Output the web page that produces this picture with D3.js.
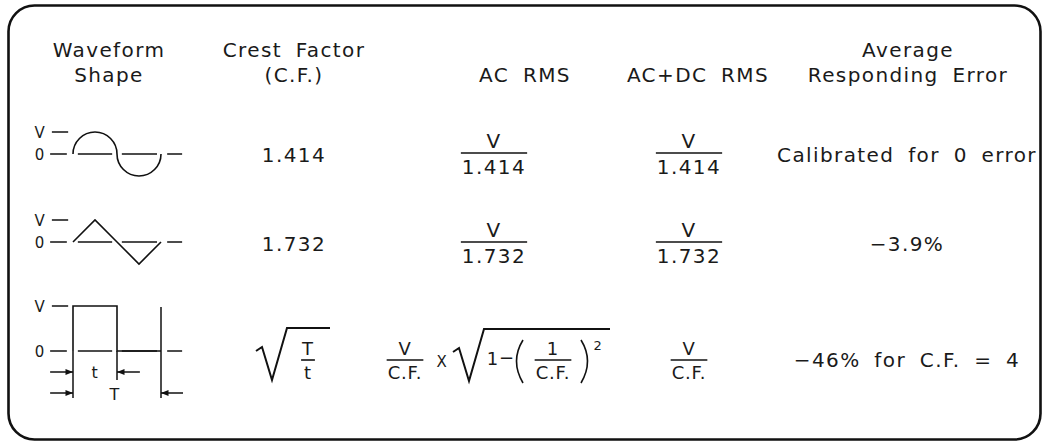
<!DOCTYPE html>
<html>
<head>
<meta charset="utf-8">
<script src="https://cdn.jsdelivr.net/npm/d3@7"></script>
<style>
  body { margin: 0; background: #fff; }
  svg text { font-family: "DejaVu Sans", sans-serif; fill: #1a1a1a; }
</style>
</head>
<body>
<div id="visualizations"></div>
<script>
// table content
const columns = ["shape", "crest", "acRms", "acDcRms", "avgError"];
const headerTop = ["Waveform", "Crest Factor", "", "", "Average"];
const headerBottom = ["Shape", "(C.F.)", "AC RMS", "AC+DC RMS", "Responding Error"];
const rows = ["sine", "triangle", "square"];
const crestFactor = ["1.414", "1.732", null];
const acRmsDenom = ["1.414", "1.732", null];
const acDcRmsDenom = ["1.414", "1.732", "C.F."];
const avgError = ["Calibrated for 0 error", "\u22123.9%", "\u221246% for C.F. = 4"];

// waveform glyphs, x in half periods, y in units of V
const trianglePts = [[0, 0], [0.5, 1], [1, 0], [1.5, -1], [2, 0]];
const squarePts = [[0, 0], [0, 1], [1, 1], [1, 0], [2, 0]];
const zeroDashes = [[-0.52, -0.14], [0.11, 0.89], [1.11, 1.91], [2.14, 2.48]];
const vDash = [-0.48, -0.11];

const W = 1044, H = 443;
const svg = d3.select("#visualizations").append("svg")
    .attr("width", W)
    .attr("height", H);

const colX = d3.scaleOrdinal().domain(columns).range([109, 294, 494, 689, 907]);
const headX = d3.scaleOrdinal().domain(columns).range([109, 294, 525, 698, 908]);
const rowY = d3.scaleOrdinal().domain(rows).range([153, 242, 360]);
const ampl = d3.scaleOrdinal().domain(rows).range([22, 22, 45]);
const zeroY = d3.scaleOrdinal().domain(rows).range([154, 242, 351]);
const wx = d3.scaleLinear().domain([0, 2]).range([73, 161]);

// frame
svg.append("rect")
    .attr("x", 8.5).attr("y", 5.5)
    .attr("width", 1032).attr("height", 434)
    .attr("rx", 26).attr("ry", 26)
    .attr("fill", "none")
    .attr("stroke", "#111")
    .attr("stroke-width", 2.6);

function txt(g, x, y, s, size) {
    return g.append("text")
        .attr("x", x).attr("y", y)
        .attr("text-anchor", "middle")
        .style("font-size", size + "px")
        .style("letter-spacing", (size >= 19 ? 1.4 : 0.8) + "px")
        .style("word-spacing", (size >= 19 ? 6 : 2) + "px")
        .text(s);
}

// headers
columns.forEach((c, i) => {
    if (headerTop[i]) txt(svg, headX(c), 57, headerTop[i], 20);
    txt(svg, headX(c), 82, headerBottom[i], 20);
});

function fraction(g, cx, cy, num, den, size) {
    const n = txt(g, cx, cy - 5, num, size);
    const d = txt(g, cx, cy + size + 1, den, size);
    const w = Math.max(n.node().getComputedTextLength(), d.node().getComputedTextLength()) + 2;
    g.append("line")
        .attr("x1", cx - w / 2).attr("x2", cx + w / 2)
        .attr("y1", cy).attr("y2", cy)
        .attr("stroke", "#111").attr("stroke-width", 1.6);
    return w;
}

function radical(g, x0, yTop, yBot, xEnd) {
    g.append("path")
        .attr("d", `M${x0},${yBot - 29} L${x0 + 6},${yBot - 33} L${x0 + 16},${yBot} L${x0 + 31},${yTop} L${xEnd},${yTop}`)
        .attr("fill", "none")
        .attr("stroke", "#111")
        .attr("stroke-width", 2)
        .attr("stroke-linejoin", "miter");
}

const lineGen = d3.line().x(d => wx(d[0]));

rows.forEach((r, i) => {
    const cy = rowY(r);
    const z = zeroY(r);
    const a = ampl(r);
    const wy = d3.scaleLinear().domain([-1, 1]).range([z + a, z - a]);
    const g = svg.append("g");

    // V and 0 labels
    txt(g, 40, wy(1) + 6, "V", 15);
    txt(g, 40, z + 6, "0", 15);
    g.append("line")
        .attr("x1", wx(vDash[0])).attr("x2", wx(vDash[1]))
        .attr("y1", wy(1)).attr("y2", wy(1))
        .attr("stroke", "#111").attr("stroke-width", 1.5);
    g.selectAll("line.zero")
        .data(zeroDashes)
        .enter().append("line")
        .attr("class", "zero")
        .attr("x1", d => wx(d[0])).attr("x2", d => wx(d[1]))
        .attr("y1", z).attr("y2", z)
        .attr("stroke", "#111").attr("stroke-width", 1.5);

    let dPath;
    if (r === "sine") {
        const p = d3.path();
        const rad = wx(0.5) - wx(0);
        p.moveTo(wx(0), z);
        p.arc(wx(0.5), z, rad, Math.PI, 2 * Math.PI, false);
        p.arc(wx(1.5), z, rad, Math.PI, 0, true);
        dPath = p.toString();
    } else if (r === "triangle") {
        dPath = lineGen.y(d => wy(d[1]))(trianglePts);
    } else {
        dPath = lineGen.y(d => wy(d[1]))(squarePts);
    }
    g.append("path")
        .attr("d", dPath)
        .attr("fill", "none")
        .attr("stroke", "#111")
        .attr("stroke-width", 1.6);

    if (r === "square") {
        // extension lines and period markers
        const ext = [[0, z, z + 47], [1, z, z + 29], [2, wy(1) + 1, z + 47]];
        g.selectAll("line.ext")
            .data(ext)
            .enter().append("line")
            .attr("x1", d => wx(d[0])).attr("x2", d => wx(d[0]))
            .attr("y1", d => d[1]).attr("y2", d => d[2])
            .attr("stroke", "#111").attr("stroke-width", 1.5);

        svg.append("defs").append("marker")
            .attr("id", "ah")
            .attr("viewBox", "0 0 10 10")
            .attr("refX", 10).attr("refY", 5)
            .attr("markerWidth", 7).attr("markerHeight", 5)
            .attr("orient", "auto")
            .append("path")
            .attr("d", "M0,1 L10,5 L0,9 Z")
            .attr("fill", "#111");

        const arrows = [
            [-0.52, 0, z + 21], [1.52, 1, z + 21],
            [-0.52, 0, z + 42], [2.5, 2, z + 42]
        ];
        g.selectAll("line.arr")
            .data(arrows)
            .enter().append("line")
            .attr("x1", d => wx(d[0])).attr("x2", d => wx(d[1]))
            .attr("y1", d => d[2]).attr("y2", d => d[2])
            .attr("stroke", "#111").attr("stroke-width", 1.5)
            .attr("marker-end", "url(#ah)");
        txt(g, wx(0.5), z + 27, "t", 16);
        txt(g, wx(0.95), z + 49, "T", 16);
    }

    // crest factor
    if (crestFactor[i]) {
        txt(svg, colX("crest"), cy + 9, crestFactor[i], 20);
    } else {
        const cx = colX("crest") + 14;
        fraction(svg, cx, cy, "T", "t", 18);
        radical(svg, cx - 52, cy - 32, cy + 20, cx + 22);
    }

    // AC RMS
    if (acRmsDenom[i]) {
        fraction(svg, colX("acRms"), cy, "V", acRmsDenom[i], 20);
    } else {
        const x0 = colX("acRms") - 112;
        fraction(svg, x0 + 23, cy, "V", "C.F.", 18);
        txt(svg, x0 + 60, cy + 7, "X", 15);
        radical(svg, x0 + 71, cy - 31, cy + 21, x0 + 228);
        txt(svg, x0 + 111, cy + 5, "1", 18);
        txt(svg, x0 + 125, cy + 4, "\u2212", 18);
        g.append("path")
            .attr("d", `M${x0 + 141},${cy - 20} Q${x0 + 128},${cy + 1} ${x0 + 141},${cy + 23}`)
            .attr("fill", "none").attr("stroke", "#111").attr("stroke-width", 1.6);
        fraction(svg, x0 + 171, cy, "1", "C.F.", 18);
        g.append("path")
            .attr("d", `M${x0 + 199},${cy - 20} Q${x0 + 212},${cy + 1} ${x0 + 199},${cy + 23}`)
            .attr("fill", "none").attr("stroke", "#111").attr("stroke-width", 1.6);
        txt(svg, x0 + 216, cy - 10, "2", 13);
    }

    // AC+DC RMS
    fraction(svg, colX("acDcRms"), cy, "V", acDcRmsDenom[i], i < 2 ? 20 : 18);

    // average responding error
    txt(svg, colX("avgError"), cy + (i < 2 ? 9 : 7), avgError[i], 20);
});
</script>
</body>
</html>
